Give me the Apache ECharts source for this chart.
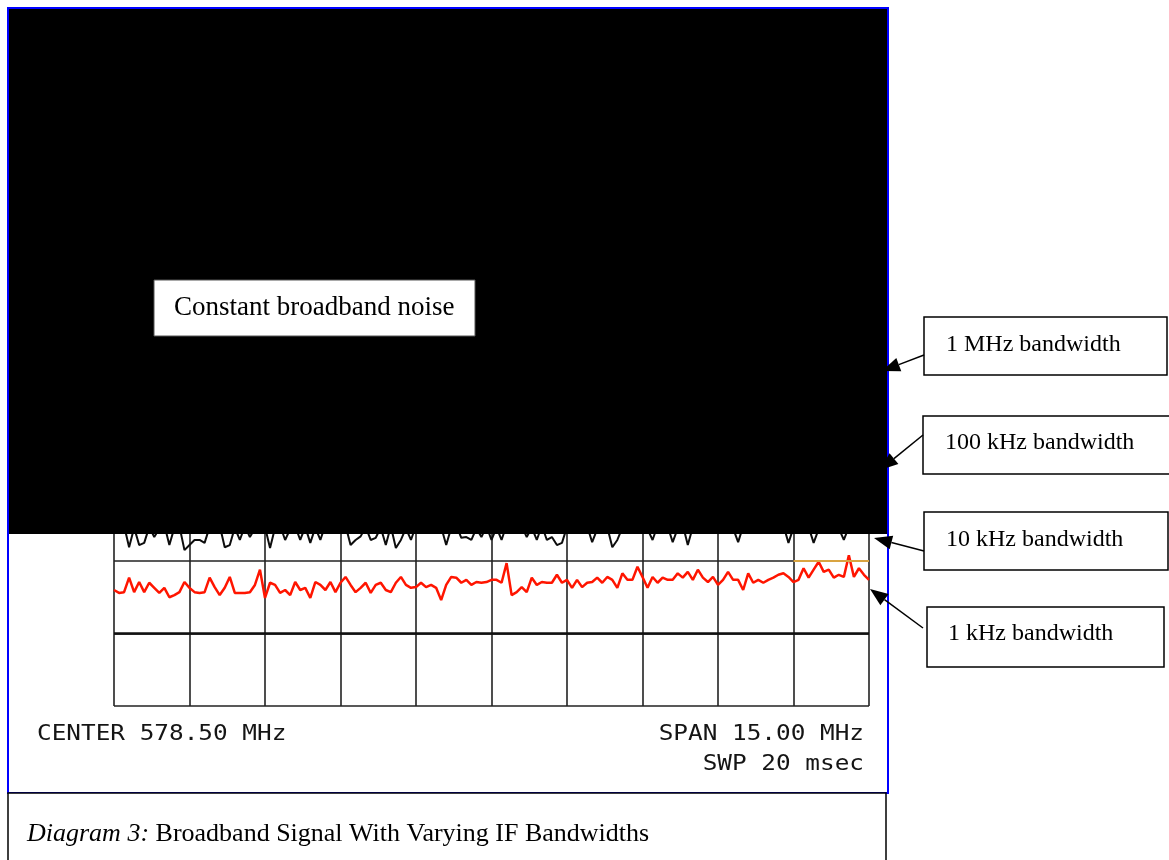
<!DOCTYPE html>
<html><head><meta charset="utf-8">
<script src="https://cdn.jsdelivr.net/npm/echarts@6/dist/echarts.min.js"></script>
<style>html,body{margin:0;padding:0;background:#fff}#c{width:1169px;height:860px}</style>
</head><body><div id="c"></div>
<script>
// ---- data ----
const centerText = 'CENTER 578.50 MHz';
const spanText = 'SPAN 15.00 MHz';
const sweepText = 'SWP 20 msec';
const spanMHz = 15;          // x axis: offset from centre, MHz
const traceStepMHz = 0.1;    // spacing of the trace points
const levelMin = -80, levelMax = 0, levelStep = 10; // dB, 10 dB/div
const displayLine = -70;
const noteText = 'Constant broadband noise';
const captionLead = 'Diagram 3:';
const captionRest = ' Broadband Signal With Varying IF Bandwidths';
const bandwidthLabels = ['1 MHz bandwidth', '100 kHz bandwidth', '10 kHz bandwidth', '1 kHz bandwidth'];

// 1 kHz IF bandwidth trace (red), dB
const trace1k = [
-64.0,-64.4,-64.3,-62.3,-64.3,-62.9,-64.3,-63.0,-63.7,-64.4,
-63.7,-65.0,-64.7,-64.3,-62.9,-63.7,-64.3,-64.4,-64.3,-62.3,
-63.6,-64.7,-63.7,-62.2,-64.4,-64.4,-64.4,-64.3,-63.3,-61.2,
-65.1,-63.0,-63.3,-64.4,-64.0,-64.7,-62.9,-64.0,-63.7,-65.1,
-62.9,-63.3,-64.0,-62.9,-64.3,-63.0,-62.2,-63.3,-64.3,-63.7,
-63.0,-64.4,-63.3,-63.0,-64.0,-64.3,-63.0,-62.2,-63.3,-63.7,
-63.6,-63.0,-63.6,-63.3,-63.7,-65.4,-63.3,-62.2,-62.3,-63.0,
-62.6,-63.3,-62.9,-63.0,-62.9,-62.6,-62.6,-63.0,-60.3,-64.7,
-64.3,-63.6,-64.3,-62.3,-63.3,-62.9,-63.0,-63.0,-61.9,-63.0,
-62.6,-63.7,-62.6,-63.6,-63.0,-62.9,-62.3,-63.0,-62.2,-62.6,
-63.7,-61.7,-62.6,-62.6,-60.8,-62.2,-63.7,-62.2,-63.0,-62.3,
-62.6,-62.6,-61.7,-62.3,-61.5,-62.6,-61.2,-62.3,-62.9,-62.2,
-63.3,-62.6,-61.5,-62.6,-62.6,-64.0,-61.7,-63.0,-62.6,-63.0,
-62.6,-62.3,-61.9,-61.7,-62.2,-62.9,-62.6,-61.0,-62.3,-61.2,
-60.1,-61.5,-61.2,-62.3,-61.9,-62.2,-59.2,-62.2,-61.0,-61.9,
-62.6
];

// 10 kHz IF bandwidth trace (black), dB - only its lower dips show below the black box
const trace10k = [
-55.2,-55.6,-55.1,-58.1,-55.4,-57.8,-57.5,-55.3,-56.7,-55.5,
-55.0,-57.8,-55.4,-55.2,-58.5,-57.8,-57.1,-57.1,-57.5,-55.3,
-55.6,-55.1,-58.1,-57.8,-55.4,-57.1,-55.2,-56.7,-55.5,-55.0,
-55.3,-58.2,-55.4,-55.1,-57.1,-55.6,-55.2,-57.1,-55.3,-57.5,
-55.4,-57.1,-55.0,-55.5,-55.2,-55.6,-55.1,-57.8,-57.1,-56.6,
-55.3,-57.1,-56.8,-55.4,-57.8,-55.2,-58.2,-57.1,-55.5,-57.1,
-55.1,-55.4,-55.0,-55.6,-55.2,-55.3,-57.8,-55.4,-55.1,-56.8,
-56.7,-57.1,-55.5,-56.7,-55.2,-57.1,-55.4,-57.1,-55.0,-55.3,
-55.6,-55.2,-56.7,-55.4,-57.1,-55.1,-57.1,-56.7,-57.8,-57.5,
-55.3,-55.5,-55.0,-55.4,-55.2,-57.4,-55.6,-55.1,-55.3,-58.1,
-57.1,-55.4,-55.0,-55.5,-55.2,-55.3,-55.6,-57.1,-55.1,-55.4,
-55.2,-57.4,-55.5,-55.0,-57.8,-55.3,-55.4,-55.1,-55.6,-55.2,
-55.0,-55.4,-55.3,-55.5,-57.4,-55.2,-55.1,-55.4,-55.6,-55.0,
-55.3,-55.2,-55.5,-55.1,-57.5,-55.4,-55.2,-55.0,-55.3,-57.5,
-55.6,-55.1,-55.4,-55.2,-55.5,-57.1,-55.3,-55.0,-55.4,-55.2,
-55.3
];

// ---- build ----
const half = spanMHz / 2;
const toPairs = arr => arr.map((v, i) => [-half + i * traceStepMHz, v]);

const serif = '"Liberation Serif","Times New Roman",serif';
const mono = '"DejaVu Sans Mono",monospace';

function arrow(x1, y1, x2, y2) {
  const dx = x2 - x1, dy = y2 - y1, L = Math.hypot(dx, dy);
  const ux = dx / L, uy = dy / L, hl = 18, hw = 7;
  const bx = x2 - ux * hl, by = y2 - uy * hl;
  return [
    { type: 'line', z: 120, shape: { x1, y1, x2: bx, y2: by }, style: { stroke: '#000', lineWidth: 1.5 } },
    { type: 'polygon', z: 120, shape: { points: [[x2, y2], [bx - uy * hw, by + ux * hw], [bx + uy * hw, by - ux * hw]] }, style: { fill: '#000' } }
  ];
}
function labelBox(x, y, w, h, text, tx, ty) {
  return [
    { type: 'rect', z: 110, shape: { x, y, width: w, height: h }, style: { fill: '#fff', stroke: '#000', lineWidth: 1.5 } },
    { type: 'text', z: 111, x: tx, y: ty, style: { text, fontSize: 24, fontFamily: serif, fill: '#000', align: 'left', verticalAlign: 'middle' } }
  ];
}
function monoText(x, y, text, align) {
  return { type: 'text', z: 111, x, y, scaleX: 1.16, style: { text, fontSize: 21, fontFamily: mono, fill: '#151515', align, verticalAlign: 'middle' } };
}

const graphics = [
  { type: 'rect', z: 100, shape: { x: 9, y: 9, width: 879, height: 525 }, style: { fill: '#000' } },
  { type: 'rect', z: 101, shape: { x: 8, y: 8, width: 880, height: 785 }, style: { fill: 'none', stroke: '#0000ff', lineWidth: 2 } },
  { type: 'rect', z: 110, shape: { x: 154, y: 280, width: 321, height: 56 }, style: { fill: '#fff', stroke: '#555', lineWidth: 1 } },
  { type: 'text', z: 111, x: 174, y: 308, style: { text: noteText, fontSize: 27, fontFamily: serif, fill: '#000', align: 'left', verticalAlign: 'middle' } },
  ...labelBox(924, 317, 243, 58, bandwidthLabels[0], 946, 345),
  ...labelBox(923, 416, 252, 58, bandwidthLabels[1], 945, 443),
  ...labelBox(924, 512, 244, 58, bandwidthLabels[2], 946, 540),
  ...labelBox(927, 607, 237, 60, bandwidthLabels[3], 948, 634),
  ...arrow(924, 355, 882, 371),
  ...arrow(923, 435, 880, 470),
  ...arrow(924, 551, 874, 538),
  ...arrow(923, 628, 870, 589),
  monoText(37, 735, centerText, 'left'),
  monoText(864, 735, spanText, 'right'),
  monoText(864, 765, sweepText, 'right'),
  { type: 'rect', z: 110, shape: { x: 8, y: 793, width: 878, height: 90 }, style: { fill: '#fff', stroke: '#000', lineWidth: 1.5 } },
  { type: 'text', z: 111, x: 27, y: 834, style: {
      text: '{i|' + captionLead + '}' + captionRest, fontSize: 26, fontFamily: serif, fill: '#000', align: 'left', verticalAlign: 'middle',
      rich: { i: { fontStyle: 'italic', fontSize: 26, fontFamily: serif, fill: '#000' } } } }
];

const chart = echarts.init(document.getElementById('c'), null, { renderer: 'canvas' });
chart.setOption({
  animation: false,
  backgroundColor: '#fff',
  grid: { left: 114, right: 300, top: 126, bottom: 154 },
  xAxis: {
    type: 'value', min: -half, max: half, interval: spanMHz / 10,
    axisLine: { show: false }, axisTick: { show: false }, axisLabel: { show: false },
    splitLine: { show: true, lineStyle: { color: '#222', width: 1.6 } }
  },
  yAxis: {
    type: 'value', min: levelMin, max: levelMax, interval: levelStep,
    axisLine: { show: false }, axisTick: { show: false }, axisLabel: { show: false },
    splitLine: { show: true, lineStyle: { color: '#222', width: 1.6 } }
  },
  series: [
    {
      type: 'line', name: '10 kHz', data: toPairs(trace10k), symbol: 'none', z: 3,
      lineStyle: { color: '#0d0d0d', width: 2 }
    },
    {
      type: 'line', name: '1 kHz', data: toPairs(trace1k), symbol: 'none', z: 4,
      lineStyle: { color: '#ff1500', width: 2.5 },
      markLine: {
        silent: true, symbol: 'none', label: { show: false },
        data: [
          [{ coord: [-half, displayLine], lineStyle: { color: '#111', width: 2.5, type: 'solid' } }, { coord: [half, displayLine] }],
          [{ coord: [half - spanMHz / 10, -60], lineStyle: { color: '#d9a441', width: 2, type: 'solid' } }, { coord: [half, -60] }]
        ]
      }
    }
  ],
  graphic: graphics
});
</script></body></html>
